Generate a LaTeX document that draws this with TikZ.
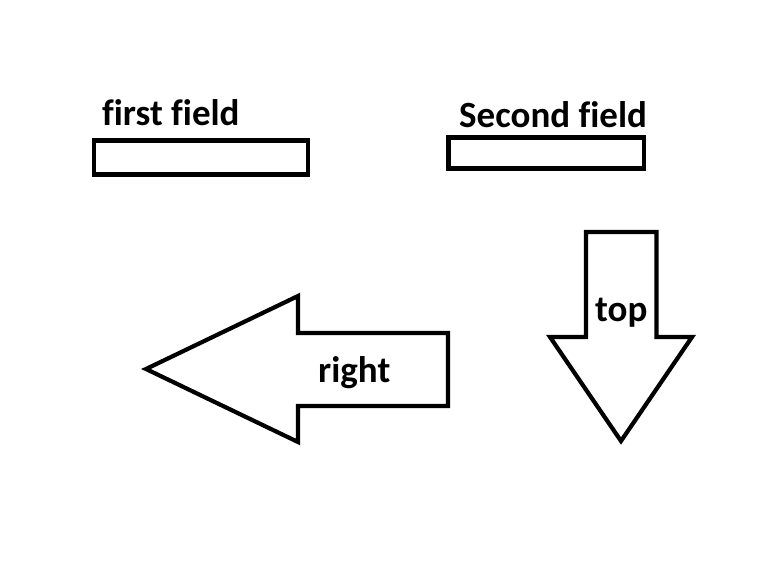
\documentclass[tikz,border=0pt]{standalone}
\usepackage{fontspec}
\setmainfont[Ligatures=NoCommon]{Carlito}
\begin{document}
\begin{tikzpicture}[x=1pt,y=-1pt,
  shapeline/.style={draw=black,line width=4.2pt,line join=miter,fill=white},
  lbl/.style={inner sep=0pt,font=\fontsize{37}{40}\selectfont\bfseries,anchor=base west}]
\useasboundingbox[fill=white] (0,0) rectangle (768,576);
% fields
\node[shapeline,minimum width=214pt,minimum height=34pt,inner sep=0pt] (f1) at (200.75,157.5) {};
\node[shapeline,minimum width=195.5pt,minimum height=31pt,inner sep=0pt] (f2) at (546.25,153) {};
\node[lbl] (t1) at (102,125) {first field};
\node[lbl] (t2) at (459,127) {Second field};
% left arrow
\draw[shapeline] (448,333) -- (298,333) -- (298,296) -- (146,369) -- (298,442) -- (298,406) -- (448,406) -- cycle;
\node[lbl] (r) at (318,382) {right};
% down arrow
\draw[shapeline] (586,232) -- (656.5,232) -- (656.5,337) -- (692,337) -- (621,441) -- (550,337) -- (586,337) -- cycle;
\node[lbl] (tp) at (595,321) {top};
\end{tikzpicture}
\end{document}
